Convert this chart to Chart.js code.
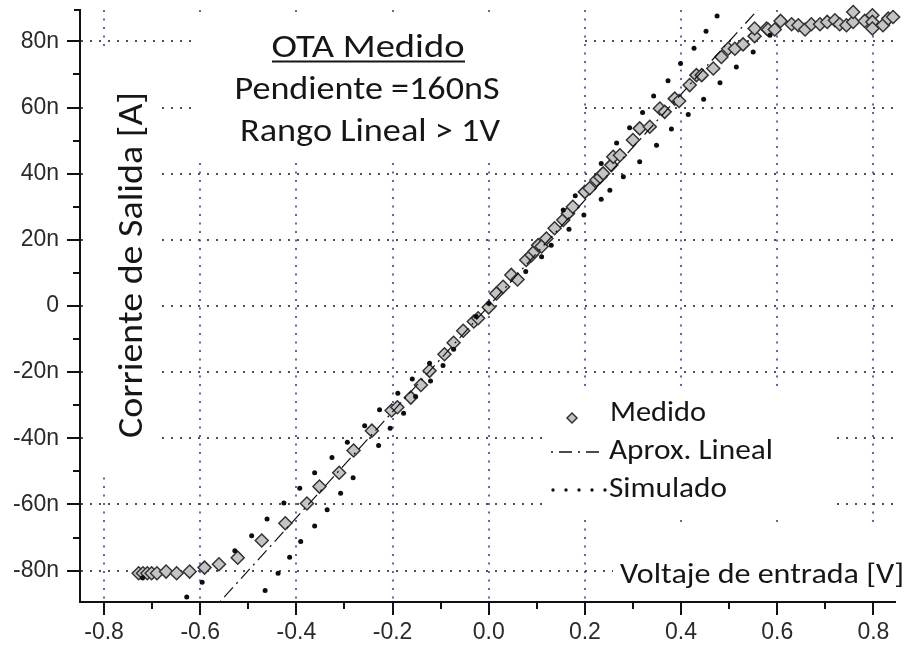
<!DOCTYPE html>
<html>
<head>
<meta charset="utf-8">
<script src="https://cdn.jsdelivr.net/npm/chart.js@4.4.0/dist/chart.umd.min.js"></script>
<style>
  html, body { margin: 0; padding: 0; background: #fff; }
  canvas { display: block; }
</style>
</head>
<body>
<canvas id="chart" width="907" height="647"></canvas>
<script>
// Axis ticks
const xTicks = [-0.8, -0.6, -0.4, -0.2, 0, 0.2, 0.4, 0.6, 0.8];
const xTickLabels = ['-0.8', '-0.6', '-0.4', '-0.2', '0.0', '0.2', '0.4', '0.6', '0.8'];
const xMinorTicks = [-0.7, -0.5, -0.3, -0.1, 0.1, 0.3, 0.5, 0.7];
const yTicks = [-80, -60, -40, -20, 0, 20, 40, 60, 80];
const yTickLabels = ['-80n', '-60n', '-40n', '-20n', '0', '20n', '40n', '60n', '80n'];
const yMinorTicks = [-70, -50, -30, -10, 10, 30, 50, 70];

// Measured OTA output current (nA) vs input voltage (V)
const medidoV = [-0.728, -0.719, -0.710, -0.701, -0.690, -0.671, -0.649, -0.622, -0.591, -0.561,
  -0.522, -0.472, -0.423, -0.378, -0.352, -0.311, -0.281, -0.243, -0.202, -0.190,
  -0.162, -0.141, -0.123, -0.092, -0.073, -0.053, -0.031, -0.022, 0.000, 0.016,
  0.030, 0.047, 0.060, 0.078, 0.089, 0.095, 0.103, 0.110, 0.120, 0.137, 0.155, 0.165, 0.175,
  0.200, 0.210, 0.224, 0.232, 0.238, 0.255, 0.259, 0.273, 0.300, 0.314, 0.335, 0.356,
  0.366, 0.387, 0.396, 0.418, 0.432, 0.443, 0.467, 0.484, 0.498, 0.512,
  0.529, 0.553, 0.553, 0.578, 0.581, 0.595, 0.607, 0.630, 0.644, 0.658,
  0.671, 0.689, 0.704, 0.720, 0.730, 0.744, 0.758, 0.758, 0.782, 0.798,
  0.798, 0.798, 0.820, 0.831, 0.841];
const medidoI = [-80.8, -80.8, -80.8, -80.8, -80.8, -80.3, -80.8, -80.3, -79.1, -78.1,
  -76.1, -70.9, -65.7, -59.7, -54.6, -50.4, -43.7, -37.7, -31.6, -30.6,
  -27.7, -23.9, -19.6, -14.6, -11.1, -7.5, -4.7, -3.7, -0.4, 3.8,
  5.8, 9.4, 8.0, 13.9, 15.4, 16.5, 18.4, 18.0, 20.4, 23.5, 26.0, 28.0, 30.0,
  34.5, 35.6, 38.1, 39.0, 40.1, 42.6, 45.1, 45.6, 50.2, 53.7, 54.2, 59.7,
  58.7, 62.7, 62.0, 66.8, 69.8, 69.8, 71.8, 75.3, 77.8, 77.8,
  79.1, 81.6, 83.9, 83.9, 83.6, 83.6, 86.2, 85.2, 84.9, 83.6,
  85.2, 85.2, 85.9, 86.4, 85.2, 84.9, 85.9, 88.9, 86.2, 87.9,
  85.9, 83.9, 84.9, 86.9, 87.4];

// Simulated response (nA)
const simuladoV = [-0.720,
  -0.628, -0.596, -0.528, -0.493, -0.461, -0.426, -0.393, -0.362, -0.326, -0.294,
  -0.258, -0.227, -0.189, -0.159, -0.123, -0.026, 0.000, 0.155, 0.180, 0.234,
  0.266, 0.293, 0.320, 0.343, 0.373, 0.399, 0.427, 0.452, 0.475,
  -0.465, -0.438, -0.414, -0.391, -0.362, -0.336, -0.308, -0.282, -0.229, -0.205,
  -0.177, -0.152, -0.121, -0.095, -0.073, 0.077, 0.110, 0.130, 0.167, 0.198,
  0.234, 0.252, 0.280, 0.314, 0.349, 0.380, 0.415, 0.447, 0.481, 0.515,
  0.550, 0.585];
const simuladoI = [-82.2,
  -88.0, -83.5, -74.0, -69.5, -64.4, -59.6, -55.1, -50.4, -45.8, -41.2,
  -36.2, -31.4, -26.4, -22.1, -17.3, -3.2, 0.8, 29.0, 33.3, 43.1,
  49.3, 53.9, 58.5, 63.5, 68.1, 73.3, 77.9, 83.1, 87.7,
  -86.0, -80.8, -76.0, -71.2, -66.5, -61.6, -56.6, -51.9, -42.2, -37.0,
  -32.4, -27.4, -22.7, -18.0, -13.1, 10.4, 14.9, 18.4, 23.2, 27.5,
  32.3, 35.0, 39.1, 43.6, 48.6, 53.5, 57.9, 62.5, 67.5, 72.3,
  76.8, 81.9];

// Linear fit: slope in nS (nA per V)
const pendienteNS = 160;
const aproxV = [-0.62, 0.62];
const aproxI = aproxV.map(v => pendienteNS * v);

const toPoints = (xs, ys) => xs.map((x, i) => ({ x: x, y: ys[i] }));

const TEXT_FONT = 'Carlito, Lato, "Open Sans", sans-serif';
const TEXT_COLOR = '#161616';
const TICK_FONT = { family: '"Liberation Sans", Arial, sans-serif', size: 23 };
const FIT_DASH = [13, 5, 2, 5];

// Draw text at a given size, stretched horizontally to a given width
function drawText(ctx, text, x, baseline, size, width, align, rotate) {
  ctx.save();
  ctx.font = size + 'px ' + TEXT_FONT;
  const w = ctx.measureText(text).width;
  ctx.translate(x, baseline);
  if (rotate) ctx.rotate(rotate);
  ctx.scale(width ? width / w : 1, 1);
  ctx.textAlign = align;
  ctx.textBaseline = 'alphabetic';
  ctx.fillStyle = TEXT_COLOR;
  ctx.fillText(text, 0, 0);
  ctx.restore();
}

const annotations = {
  id: 'annotations',
  beforeDatasetsDraw(chart) {
    const ctx = chart.ctx;
    ctx.save();
    // text panels sit above the grid
    ctx.fillStyle = '#ffffff';
    ctx.fillRect(195, 14, 386, 146);   // title block
    ctx.fillRect(84, 46, 75, 426);     // y axis title
    ctx.fillRect(546, 390, 290, 129);  // legend
    ctx.fillRect(613, 527, 294, 73);   // x axis title

    drawText(ctx, 'OTA Medido', 368, 57, 32, 193, 'center');
    ctx.strokeStyle = TEXT_COLOR;
    ctx.lineWidth = 2;
    ctx.beginPath();
    ctx.moveTo(272, 61.5);
    ctx.lineTo(465, 61.5);
    ctx.stroke();
    drawText(ctx, 'Pendiente =' + pendienteNS + 'nS', 367, 99, 32, 265, 'center');
    drawText(ctx, 'Rango Lineal > 1V', 370, 141, 32, 260, 'center');

    drawText(ctx, 'Corriente de Salida [A]', 142, 265, 34, 346, 'center', -Math.PI / 2);
    drawText(ctx, 'Voltaje de entrada [V]', 620, 583, 28, 284, 'left');

    // legend
    drawText(ctx, 'Medido', 610, 421, 28, 96, 'left');
    drawText(ctx, 'Aprox. Lineal', 609, 459, 28, 164, 'left');
    drawText(ctx, 'Simulado', 609, 497, 28, 118, 'left');

    ctx.beginPath();
    ctx.moveTo(572 - 5, 418);
    ctx.lineTo(572, 418 - 5);
    ctx.lineTo(572 + 5, 418);
    ctx.lineTo(572, 418 + 5);
    ctx.closePath();
    ctx.fillStyle = '#c4c4c4';
    ctx.fill();
    ctx.strokeStyle = '#333';
    ctx.lineWidth = 1.5;
    ctx.stroke();

    ctx.setLineDash([2, 6, 13, 6]);
    ctx.strokeStyle = '#111';
    ctx.lineWidth = 1.3;
    ctx.beginPath();
    ctx.moveTo(551, 452);
    ctx.lineTo(604, 452);
    ctx.stroke();
    ctx.setLineDash([]);

    ctx.fillStyle = '#111';
    [553, 566, 579, 592, 605].forEach(px => {
      ctx.beginPath();
      ctx.arc(px, 490, 1.7, 0, Math.PI * 2);
      ctx.fill();
    });
    ctx.restore();
  },
  afterDraw(chart) {
    // minor ticks and the small cap at the top of the y axis
    const ctx = chart.ctx;
    const xs = chart.scales.x, ys = chart.scales.y;
    const area = chart.chartArea;
    ctx.save();
    ctx.strokeStyle = '#111';
    ctx.lineWidth = 2;
    ctx.beginPath();
    xMinorTicks.forEach(v => {
      const px = Math.round(xs.getPixelForValue(v));
      ctx.moveTo(px, area.bottom);
      ctx.lineTo(px, area.bottom + 7);
    });
    yMinorTicks.forEach(v => {
      const py = Math.round(ys.getPixelForValue(v));
      ctx.moveTo(area.left, py);
      ctx.lineTo(area.left - 7, py);
    });
    ctx.moveTo(area.left + 1, area.top);
    ctx.lineTo(area.left - 6, area.top);
    ctx.stroke();
    ctx.restore();
  }
};

new Chart(document.getElementById('chart'), {
  type: 'scatter',
  data: {
    datasets: [
      {
        label: 'Simulado',
        data: toPoints(simuladoV, simuladoI),
        showLine: false,
        pointStyle: 'circle',
        pointRadius: 2.5,
        pointBorderWidth: 0,
        pointBackgroundColor: '#0d0d0d',
        pointBorderColor: '#0d0d0d'
      },
      {
        label: 'Aprox. Lineal',
        data: toPoints(aproxV, aproxI),
        showLine: true,
        pointRadius: 0,
        borderColor: '#111',
        borderWidth: 1.2,
        borderDash: FIT_DASH
      },
      {
        label: 'Medido',
        data: toPoints(medidoV, medidoI),
        showLine: false,
        clip: false,
        pointStyle: 'rectRot',
        pointRadius: 6.5,
        pointBorderWidth: 1.5,
        pointBackgroundColor: '#c4c4c4',
        pointBorderColor: '#333'
      }
    ]
  },
  options: {
    responsive: false,
    devicePixelRatio: 1,
    animation: false,
    layout: { padding: { top: 10, right: 12, left: 0, bottom: 0 } },
    plugins: { legend: { display: false }, tooltip: { enabled: false } },
    scales: {
      x: {
        type: 'linear',
        min: -0.85,
        max: 0.845,
        afterBuildTicks: s => { s.ticks = xTicks.map(v => ({ value: v })); },
        afterFit: s => { s.height = 45; s.paddingLeft = 0; s.paddingRight = 0; },
        ticks: {
          callback: (v, i) => xTickLabels[i],
          font: TICK_FONT,
          color: '#2a2a2a',
          padding: 4,
          maxRotation: 0
        },
        grid: {
          color: 'rgb(92, 92, 240)',
          lineWidth: 2,
          tickColor: '#111',
          tickLength: 13,
          tickWidth: 2
        },
        border: { display: true, color: '#111', width: 2, dash: [2, 6.5] }
      },
      y: {
        type: 'linear',
        min: -89.5,
        max: 89.5,
        afterBuildTicks: s => { s.ticks = yTicks.map(v => ({ value: v })); },
        afterFit: s => { s.width = 80; s.paddingTop = 0; s.paddingBottom = 0; },
        ticks: {
          callback: (v, i) => yTickLabels[i],
          font: TICK_FONT,
          color: '#2a2a2a',
          padding: 8
        },
        grid: {
          color: '#505050',
          lineWidth: 2,
          tickColor: '#111',
          tickLength: 13,
          tickWidth: 2
        },
        border: { display: true, color: '#111', width: 2, dash: [2, 7] }
      }
    }
  },
  plugins: [annotations]
});
</script>
</body>
</html>
